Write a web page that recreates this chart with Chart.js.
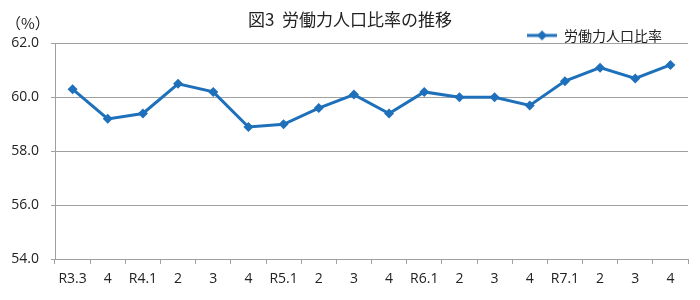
<!DOCTYPE html>
<html>
<head>
<meta charset="utf-8">
<script src="https://cdn.jsdelivr.net/npm/chart.js@4/dist/chart.umd.min.js"></script>
<style>
  html, body { margin: 0; padding: 0; background: #fff; }
  #chart { width: 700px; height: 300px; }
</style>
</head>
<body>
<div id="chart"><canvas id="myChart" width="700" height="300"></canvas></div>
<script>
// data
const labels = ["R3.3", "4", "R4.1", "2", "3", "4", "R5.1", "2", "3", "4", "R6.1", "2", "3", "4", "R7.1", "2", "3", "4"];
const ratio = [60.3, 59.2, 59.4, 60.5, 60.2, 58.9, 59.0, 59.6, 60.1, 59.4, 60.2, 60.0, 60.0, 59.7, 60.6, 61.1, 60.7, 61.2];
const seriesName = "労働力人口比率";
const titleText = "図3  労働力人口比率の推移";
const unitText = "（%）";
const yMin = 54, yMax = 62, yStep = 2;

const blue = "rgb(31,112,186)";
const jp = "'Noto Sans CJK JP', 'Noto Sans', sans-serif";
const num = "'Open Sans', 'Noto Sans', sans-serif";

// legend marker: line with a diamond on it
function legendMark(){
    let c = document.createElement('canvas');
    c.width = 30; c.height = 12;
    let g = c.getContext('2d');
    g.strokeStyle = blue;
    g.lineWidth = 3;
    g.beginPath(); g.moveTo(0, 6); g.lineTo(30, 6); g.stroke();
    g.fillStyle = blue;
    g.beginPath(); g.moveTo(15, 1); g.lineTo(20, 6); g.lineTo(15, 11); g.lineTo(10, 6); g.closePath(); g.fill();
    return c;
}
const mark = legendMark();

// "(%)" above the y axis, and nudge the legend to where it sits in the picture
const extras = {
    id: 'extras',
    afterLayout(chart){
        const lg = chart.legend;
        lg.right -= 26;
        lg.top += 9;
        lg.bottom += 9;
    },
    afterDraw(chart){
        const ctx = chart.ctx;
        ctx.save();
        ctx.font = "15px " + jp;
        ctx.fillStyle = "#222";
        ctx.textAlign = "left";
        ctx.textBaseline = "middle";
        ctx.fillText(unitText, 6, 23);
        ctx.restore();
    }
};

function chartAdd(){
    return new Chart('myChart', {
        type: "line",
        data: {
            labels: labels,
            datasets: [{
                label: seriesName,
                data: ratio,
                fill: false,
                lineTension: 0,
                borderColor: blue,
                backgroundColor: blue,
                borderWidth: 3,
                pointStyle: 'rectRot',
                pointRadius: 5,
                pointHoverRadius: 5,
                pointBackgroundColor: blue,
                pointBorderColor: blue,
                pointBorderWidth: 0
            }]
        },
        options: {
            responsive: false,
            animation: false,
            layout: { padding: { left: 12, right: 12, top: 0, bottom: 0 } },
            scales: {
                x: {
                    offset: true,
                    grid: { display: true, drawOnChartArea: false, drawTicks: true, tickLength: 5, color: "#a0a0a0", offset: true },
                    border: { color: "#a0a0a0", width: 1 },
                    ticks: { color: "#222", font: { family: num, size: 14 }, padding: 7, maxRotation: 0, autoSkip: false },
                    afterFit(scale){ scale.height = 41; }
                },
                y: {
                    min: yMin,
                    max: yMax,
                    grid: { color: "#a0a0a0", lineWidth: 1, drawTicks: true, tickLength: 4 },
                    border: { color: "#a0a0a0", width: 1 },
                    ticks: {
                        stepSize: yStep,
                        color: "#222",
                        font: { family: num, size: 14 },
                        padding: 12,
                        callback: v => v.toFixed(1)
                    },
                    afterFit(scale){ scale.width = 43; }
                }
            },
            plugins: {
                title: {
                    display: true,
                    text: titleText,
                    color: "#222",
                    font: { family: jp, size: 17, weight: 'normal' },
                    padding: { top: 9, bottom: -10 }
                },
                legend: {
                    display: true,
                    position: 'top',
                    align: 'end',
                    labels: {
                        usePointStyle: true,
                        pointStyleWidth: 30,
                        boxHeight: 12,
                        padding: 0,
                        color: "#222",
                        font: { family: jp, size: 14 },
                        generateLabels(chart){
                            return [{
                                text: seriesName,
                                pointStyle: mark,
                                fillStyle: blue,
                                strokeStyle: blue,
                                lineWidth: 0,
                                hidden: false,
                                datasetIndex: 0,
                                fontColor: "#222"
                            }];
                        }
                    }
                },
                tooltip: { enabled: false }
            }
        },
        plugins: [extras]
    });
}

chartAdd();
</script>
</body>
</html>
